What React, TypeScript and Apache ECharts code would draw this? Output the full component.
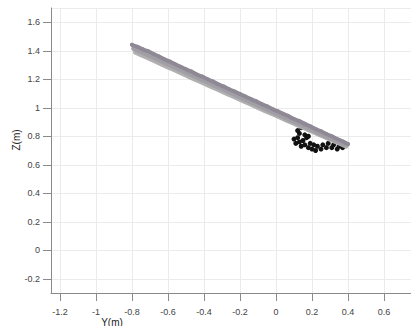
import React, { useEffect, useRef } from "react";
import * as echarts from "echarts";

// Trajectory band (Y, Z) in metres
const upperBand: [number, number][] = [
  [-0.8, 1.442], [-0.77, 1.428], [-0.74, 1.41], [-0.71, 1.396], [-0.68, 1.377], [-0.65, 1.36],
  [-0.62, 1.34], [-0.59, 1.324], [-0.56, 1.305], [-0.53, 1.288], [-0.5, 1.27], [-0.47, 1.254],
  [-0.44, 1.233], [-0.41, 1.219], [-0.38, 1.2], [-0.35, 1.184], [-0.32, 1.164], [-0.29, 1.149],
  [-0.26, 1.13], [-0.23, 1.114], [-0.2, 1.096], [-0.17, 1.079], [-0.14, 1.061], [-0.11, 1.045],
  [-0.08, 1.026], [-0.05, 1.01], [-0.02, 0.991], [0.01, 0.975], [0.04, 0.957], [0.07, 0.941],
  [0.1, 0.921], [0.13, 0.906], [0.16, 0.887], [0.19, 0.87], [0.22, 0.851], [0.25, 0.835],
  [0.28, 0.816], [0.31, 0.8], [0.34, 0.781], [0.37, 0.764], [0.4, 0.745],
];
const middleBand: [number, number][] = [
  [-0.79, 1.416], [-0.76, 1.399], [-0.73, 1.382], [-0.7, 1.365], [-0.67, 1.347], [-0.64, 1.331],
  [-0.61, 1.312], [-0.58, 1.296], [-0.55, 1.278], [-0.52, 1.261], [-0.49, 1.244], [-0.46, 1.226],
  [-0.43, 1.209], [-0.4, 1.192], [-0.37, 1.175], [-0.34, 1.157], [-0.31, 1.14], [-0.28, 1.123],
  [-0.25, 1.105], [-0.22, 1.088], [-0.19, 1.071], [-0.16, 1.053], [-0.13, 1.036], [-0.1, 1.019],
  [-0.07, 1.001], [-0.04, 0.984], [-0.01, 0.967], [0.02, 0.95], [0.05, 0.932], [0.08, 0.915],
  [0.11, 0.898], [0.14, 0.881], [0.17, 0.863], [0.2, 0.846], [0.23, 0.829], [0.26, 0.811],
  [0.29, 0.794], [0.32, 0.777], [0.35, 0.76], [0.38, 0.742],
];
const lowerBand: [number, number][] = [
  [-0.78, 1.39], [-0.75, 1.373], [-0.72, 1.356], [-0.69, 1.339], [-0.66, 1.322], [-0.63, 1.304],
  [-0.6, 1.287], [-0.57, 1.27], [-0.54, 1.253], [-0.51, 1.236], [-0.48, 1.218], [-0.45, 1.201],
  [-0.42, 1.185], [-0.39, 1.167], [-0.36, 1.15], [-0.33, 1.133], [-0.3, 1.116], [-0.27, 1.099],
  [-0.24, 1.082], [-0.21, 1.065], [-0.18, 1.048], [-0.15, 1.031], [-0.12, 1.014], [-0.09, 0.997],
  [-0.06, 0.98], [-0.03, 0.963], [0.0, 0.947], [0.03, 0.93], [0.06, 0.913], [0.09, 0.896],
  [0.12, 0.88], [0.15, 0.863], [0.18, 0.846], [0.21, 0.83], [0.24, 0.813], [0.27, 0.797],
  [0.3, 0.78], [0.33, 0.764], [0.36, 0.747], [0.39, 0.731],
];
const darkBand: [number, number][] = [
  [0.12, 0.9], [0.15, 0.882], [0.19, 0.86], [0.24, 0.83], [0.28, 0.806], [0.33, 0.776], [0.37, 0.755],
];
const endPoints: [number, number][] = [
  [0.1, 0.78], [0.11, 0.75], [0.12, 0.79], [0.13, 0.76], [0.14, 0.73], [0.15, 0.77],
  [0.16, 0.74], [0.17, 0.79], [0.18, 0.72], [0.19, 0.75], [0.2, 0.71], [0.21, 0.74],
  [0.22, 0.7], [0.23, 0.73], [0.25, 0.71], [0.26, 0.74], [0.28, 0.72], [0.29, 0.75],
  [0.31, 0.72], [0.32, 0.74], [0.34, 0.71], [0.35, 0.73], [0.37, 0.72], [0.38, 0.74],
  [0.13, 0.82], [0.14, 0.86], [0.13, 0.89], [0.12, 0.84], [0.16, 0.81], [0.18, 0.8],
];

const xName = "Y(m)";
const yName = "Z(m)";
const FONT = "Liberation Sans, Arial, sans-serif";

export default function App() {
  const ref = useRef<HTMLDivElement>(null);
  useEffect(() => {
    document.body.style.margin = "0";
    const chart = echarts.init(ref.current!, null, { renderer: "svg" });
    const scatter = (data: [number, number][], color: string, size: number) => ({
      type: "scatter",
      data,
      symbolSize: size,
      itemStyle: { color, opacity: 1 },
      silent: true,
    });
    const band = (data: [number, number][], color: string, width: number) => ({
      type: "line",
      data,
      showSymbol: false,
      symbol: "none",
      lineStyle: { color, width, cap: "round", join: "round" },
      silent: true,
    });
    chart.setOption({
      animation: false,
      backgroundColor: "#ffffff",
      grid: { left: 51, right: 0, top: 8, bottom: 33 },
      xAxis: {
        type: "value",
        min: -1.25,
        max: 0.75,
        splitNumber: 10,
        axisLine: { show: true, onZero: false, lineStyle: { color: "#8a8a8a", width: 1 } },
        axisTick: { show: true, length: 8, lineStyle: { color: "#8a8a8a" } },
        axisLabel: {
          showMinLabel: false,
          showMaxLabel: false,
          margin: 14,
          fontSize: 9,
          color: "#444",
          fontFamily: FONT,
        },
        splitLine: { show: true, lineStyle: { color: "#ebebeb", width: 1 } },
      },
      yAxis: {
        type: "value",
        min: -0.3,
        max: 1.7,
        splitNumber: 10,
        axisLine: { show: true, onZero: false, lineStyle: { color: "#8a8a8a", width: 1 } },
        axisTick: { show: true, length: 8, lineStyle: { color: "#8a8a8a" } },
        axisLabel: {
          showMinLabel: false,
          showMaxLabel: false,
          margin: 11,
          fontSize: 9,
          color: "#444",
          fontFamily: FONT,
        },
        splitLine: { show: true, lineStyle: { color: "#ebebeb", width: 1 } },
      },
      graphic: [
        {
          type: "text",
          x: 112,
          y: 322,
          style: {
            text: xName,
            fill: "#222",
            font: `10px ${FONT}`,
            textAlign: "center",
            textVerticalAlign: "middle",
          },
        },
        {
          type: "text",
          x: 16,
          y: 140,
          rotation: Math.PI / 2,
          style: {
            text: yName,
            fill: "#222",
            font: `10px ${FONT}`,
            textAlign: "center",
            textVerticalAlign: "middle",
          },
        },
      ],
      series: [
        band(lowerBand, "#b0b0b0", 5),
        band(middleBand, "#a19ea5", 5),
        band(upperBand, "#8e8994", 4),
        scatter(lowerBand, "#b2b2b2", 4),
        scatter(middleBand, "#a09ca4", 4),
        scatter(upperBand, "#8c8792", 4),
        scatter(darkBand, "#5a5560", 4),
        scatter(endPoints, "#111111", 5),
      ],
    });
    return () => chart.dispose();
  }, []);
  return <div ref={ref} style={{ width: 411, height: 326 }} />;
}
